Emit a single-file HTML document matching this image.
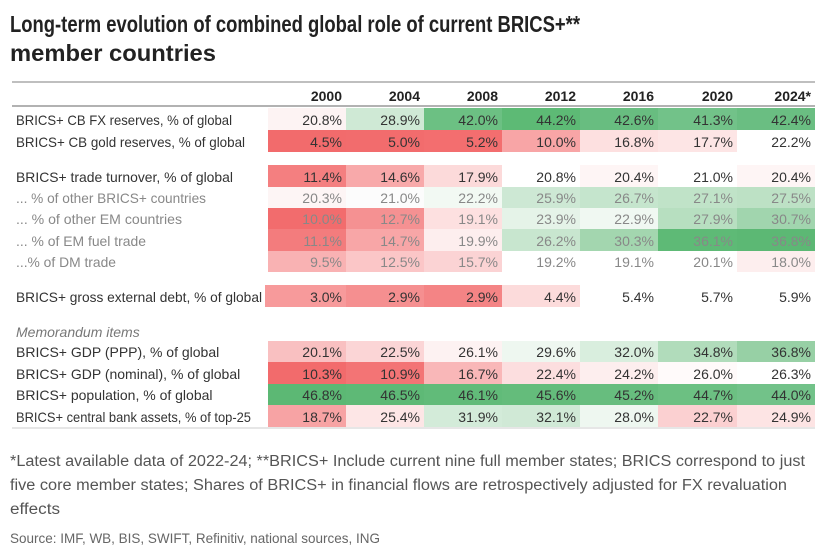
<!DOCTYPE html>
<html><head><meta charset="utf-8"><style>
html,body{margin:0;padding:0;background:#fff;}
svg{display:block;font-family:"Liberation Sans",sans-serif;}
</style></head><body>
<svg width="825" height="548" viewBox="0 0 825 548" xmlns="http://www.w3.org/2000/svg">
<rect width="825" height="548" fill="#fff"/>
<text x="10" y="32" font-size="23" font-weight="bold" fill="#222" textLength="570" lengthAdjust="spacingAndGlyphs">Long-term evolution of combined global role of current BRICS+**</text>
<text x="10" y="61" font-size="23" font-weight="bold" fill="#222" textLength="206" lengthAdjust="spacingAndGlyphs">member countries</text>
<line x1="12" y1="82" x2="815" y2="82" stroke="#aaa" stroke-width="1.5"/>
<g font-size="14" font-weight="bold" fill="#222" text-anchor="end">
<text x="342" y="101">2000</text><text x="420" y="101">2004</text><text x="498" y="101">2008</text><text x="576" y="101">2012</text><text x="654" y="101">2016</text><text x="733" y="101">2020</text><text x="811" y="101">2024*</text>
</g>
<line x1="12" y1="106" x2="815" y2="106" stroke="#999" stroke-width="1.5"/>
<g id="cells"></g>
<line x1="12" y1="428" x2="815" y2="428" stroke="#ccc" stroke-width="1"/>
<text x="10" y="466" font-size="15.5" fill="#555" textLength="795" lengthAdjust="spacingAndGlyphs">*Latest available data of 2022-24; **BRICS+ Include current nine full member states; BRICS correspond to just</text>
<text x="10" y="490" font-size="15.5" fill="#555" textLength="777" lengthAdjust="spacingAndGlyphs">five core member states; Shares of BRICS+ in financial flows are retrospectively adjusted for FX revaluation</text>
<text x="10" y="514" font-size="15.5" fill="#555" textLength="50" lengthAdjust="spacingAndGlyphs">effects</text>
<text x="10" y="543" font-size="14" fill="#666" textLength="370" lengthAdjust="spacingAndGlyphs">Source: IMF, WB, BIS, SWIFT, Refinitiv, national sources, ING</text>
<text x="16" y="337" font-size="14" font-style="italic" fill="#777">Memorandum items</text>
</svg>
<script>
var rows=[
[108,130,"BRICS+ CB FX reserves, % of global",0,["20.8%","28.9%","42.0%","44.2%","42.6%","41.3%","42.4%"],["#fdf3f3","#cfe9d5","#6cc083","#5dba75","#68bd80","#72c289","#6abe82"],232],
[130,152,"BRICS+ CB gold reserves, % of global",0,["4.5%","5.0%","5.2%","10.0%","16.8%","17.7%","22.2%"],["#f26b6c","#f26c6d","#f36e6f","#f8a5a6","#fde0e0","#fde5e5","#ffffff"],245],
[165,187,"BRICS+ trade turnover, % of global",0,["11.4%","14.6%","17.9%","20.8%","20.4%","21.0%","20.4%"],["#f47f80","#f8a9aa","#fcdada","#ffffff","#fef5f5","#ffffff","#fef5f5"],233],
[187,208,"... % of other BRICS+ countries",1,["20.3%","21.0%","22.2%","25.9%","26.7%","27.1%","27.5%"],["#fdf5f5","#fcfcfc","#f2f9f3","#cde8d4","#c5e5cd","#c0e3c8","#bde1c5"],206],
[208,229,"... % of other EM countries",1,["10.0%","12.7%","19.1%","23.9%","22.9%","27.9%","30.7%"],["#f26c6d","#f59192","#fde0e0","#e5f3e8","#f0f8f2","#b7dfc0","#a1d5ae"],182],
[229,251,"... % of EM fuel trade",1,["11.1%","14.7%","19.9%","26.2%","30.3%","36.1%","36.8%"],["#f37c7d","#f8a6a7","#fdeeee","#c8e6cf","#a3d6af","#5eba76","#5cb874"],146],
[251,272,"...% of DM trade",1,["9.5%","12.5%","15.7%","19.2%","19.1%","20.1%","18.0%"],["#f9b2b3","#fbc6c7","#fbd3d4","#ffffff","#ffffff","#ffffff","#fdeeee"],116],
[285,307,"BRICS+ gross external debt, % of global",0,["3.0%","2.9%","2.9%","4.4%","5.4%","5.7%","5.9%"],["#f79a9b","#f58f90","#f48485","#fcdbdb","#ffffff","#ffffff","#ffffff"],262],
[341,362,"BRICS+ GDP (PPP), % of global",0,["20.1%","22.5%","26.1%","29.6%","32.0%","34.8%","36.8%"],["#f9c0c1","#fbd5d6","#fdf2f2","#eef7f0","#d9eede","#b1dcbb","#97d0a5"],0],
[362,384,"BRICS+ GDP (nominal), % of global",0,["10.3%","10.9%","16.7%","22.4%","24.2%","26.0%","26.3%"],["#f26b6c","#f37475","#f9b7b8","#fcdedf","#fdeeee","#fffafa","#ffffff"],0],
[384,405,"BRICS+ population, % of global",0,["46.8%","46.5%","46.1%","45.6%","45.2%","44.7%","44.0%"],["#5cb874","#5eb976","#61bb79","#64bc7b","#67bd7e","#6cc082","#72c289"],0],
[405,427,"BRICS+ central bank assets, % of top-25",0,["18.7%","25.4%","31.9%","32.1%","28.0%","22.7%","24.9%"],["#f7a3a4","#fde6e6","#d3ebd9","#d0e9d6","#eef7f0","#fbd0d1","#fde4e4"],251]
];
var L=[268,346,424,502,580,658,737,815];
var ns="http://www.w3.org/2000/svg",g=document.getElementById("cells"),s="";
rows.forEach(function(r){
 for(var i=0;i<7;i++){
  s+='<rect x="'+L[i]+'" y="'+r[0]+'" width="'+(L[i+1]-L[i])+'" height="'+(r[1]-r[0])+'" fill="'+r[5][i]+'"/>';
  s+='<text x="'+(L[i+1]-4)+'" y="'+(r[1]-5)+'" font-size="14" text-anchor="end" fill="'+(r[3]?"#888":"#333")+'">'+r[4][i]+'</text>';
 }
 if(r[2].indexOf("debt")>0) s='<rect x="265" y="285" width="4" height="22" fill="#f79a9b"/>'+s;
 s+='<text x="16" y="'+(r[1]-5)+'" font-size="14" fill="'+(r[3]?"#888":"#333")+'"'+(r[6]?' textLength="'+(r[6]-16)+'" lengthAdjust="spacingAndGlyphs"':'')+'>'+r[2]+'</text>';
});
g.innerHTML=s;
</script>
</body></html>
